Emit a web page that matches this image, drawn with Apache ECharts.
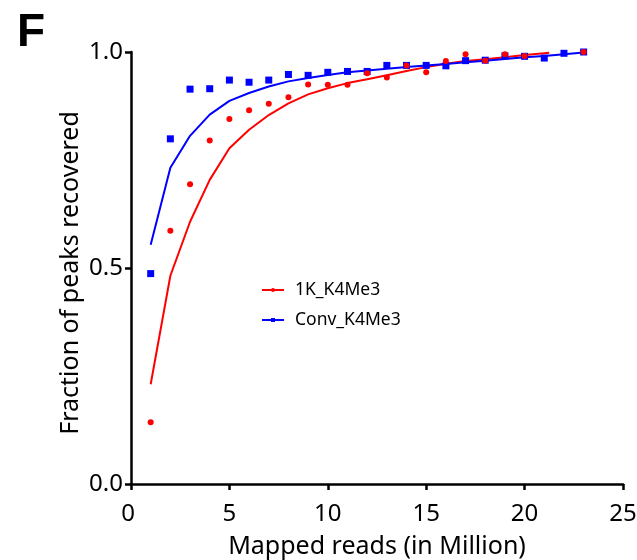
<!DOCTYPE html>
<html>
<head>
<meta charset="utf-8">
<script src="https://cdn.jsdelivr.net/npm/echarts@6/dist/echarts.min.js"></script>
<style>
  html, body { margin: 0; padding: 0; background: #fff; }
  #chart { width: 637px; height: 560px; }
</style>
</head>
<body>
<div id="chart"></div>
<script>
// Mapped reads (millions) at each subsampling depth
const depths = [1, 2, 3, 4, 5, 6, 7, 8, 9, 10, 11, 12, 13, 14, 15, 16, 17, 18, 19, 20, 21, 22, 23];

// Observed fraction of peaks recovered
const k1Observed = [0.143, 0.586, 0.694, 0.795, 0.845, 0.865, 0.880, 0.895, 0.925, 0.924, 0.924, 0.951,
                    0.941, 0.969, 0.953, 0.979, 0.995, 0.980, 0.995, 0.991, null, null, 1.0];
const convObserved = [0.487, 0.799, 0.914, 0.915, 0.935, 0.930, 0.935, 0.948, 0.946, 0.953, 0.955, 0.955,
                      0.969, 0.969, 0.969, 0.968, 0.980, 0.981, 0.991, 0.990, 0.986, 0.997, 1.0];

// Fitted saturation curves
const k1FitX = [1, 2, 3, 4, 5, 6, 7, 8, 9, 10, 11, 12, 13, 14, 15, 16, 17, 18, 19, 20, 21, 21.25];
const k1Fit = [0.231, 0.482, 0.607, 0.704, 0.777, 0.820, 0.854, 0.881, 0.902, 0.916, 0.928, 0.937,
               0.946, 0.956, 0.965, 0.973, 0.979, 0.983, 0.988, 0.993, 0.997, 0.998];
const convFit = [0.554, 0.732, 0.806, 0.855, 0.887, 0.905, 0.920, 0.932, 0.940, 0.947, 0.953, 0.957,
                 0.961, 0.965, 0.969, 0.972, 0.976, 0.980, 0.984, 0.988, 0.991, 0.995, 0.999];

const xTicks = [0, 5, 10, 15, 20, 25];
const yTicks = [0, 0.5, 1.0];

const RED = '#ff0000';
const BLUE = '#0000ff';
const FONT = '"Noto Sans", sans-serif';

const pair = (xs, ys) => xs.map((x, i) => [x, ys[i]]).filter(p => p[1] != null);

const chart = echarts.init(document.getElementById('chart'), null, { renderer: 'canvas' });
chart.setOption({
  animation: false,
  backgroundColor: '#fff',
  textStyle: { fontFamily: FONT },
  grid: { left: 131, right: 14, top: 52, bottom: 76, containLabel: false, outerBoundsMode: 'none' },
  title: {
    text: 'F', left: 12, top: 5,
    textStyle: { fontFamily: '"Liberation Sans", Arial, sans-serif', fontWeight: 'bold', fontSize: 46, color: '#000' }
  },
  legend: {
    left: 256, top: 276, orient: 'vertical',
    itemWidth: 22, itemHeight: 5, itemGap: 12,
    textStyle: { fontFamily: FONT, fontSize: 17.5, color: '#000', padding: [0, 0, 0, 6] },
    data: ['1K_K4Me3', 'Conv_K4Me3']
  },
  xAxis: {
    type: 'value', min: 0, max: 25, interval: 5,
    name: 'Mapped reads (in Million)', nameLocation: 'middle', nameGap: 50,
    nameTextStyle: { fontFamily: FONT, fontSize: 25, color: '#000' },
    axisLine: { show: true, onZero: false, lineStyle: { color: '#000', width: 2.5 } },
    axisTick: { show: true, length: 6, lineStyle: { color: '#000', width: 2.5 } },
    axisLabel: {
      fontFamily: FONT, fontSize: 24, color: '#000', margin: 18,
      formatter: v => v === 0 ? '{z|0}' : (xTicks.includes(v) ? String(v) : ''),
      rich: { z: { fontFamily: FONT, fontSize: 24, color: '#000', padding: [0, 6, 0, 0] } }
    },
    splitLine: { show: false }
  },
  yAxis: {
    type: 'value', min: 0, max: 1, interval: 0.5,
    name: 'Fraction of peaks recovered', nameLocation: 'middle', nameGap: 48, nameRotate: 90,
    nameMoveOverlap: false,
    nameTextStyle: { fontFamily: FONT, fontSize: 25, color: '#000', padding: [0, 10, 0, 0] },
    axisLine: { show: true, onZero: false, lineStyle: { color: '#000', width: 2.5 } },
    axisTick: { show: true, length: 6, lineStyle: { color: '#000', width: 2.5 } },
    axisLabel: { fontFamily: FONT, fontSize: 24, color: '#000', margin: 8, padding: [8, 0, 0, 0],
                 formatter: v => yTicks.includes(v) ? v.toFixed(1) : '' },
    splitLine: { show: false }
  },
  series: [
    {
      name: '1K_K4Me3', type: 'line', data: pair(k1FitX, k1Fit),
      symbol: 'circle', symbolSize: 4, showSymbol: false,
      lineStyle: { color: RED, width: 2 }, itemStyle: { color: RED }, z: 3
    },
    {
      name: 'Conv_K4Me3', type: 'line', data: pair(depths, convFit),
      symbol: 'rect', symbolSize: 4, showSymbol: false,
      lineStyle: { color: BLUE, width: 2 }, itemStyle: { color: BLUE }, z: 3
    },
    {
      name: 'Conv_K4Me3 observed', type: 'scatter', data: pair(depths, convObserved),
      symbol: 'rect', symbolSize: 7, itemStyle: { color: BLUE, opacity: 1 }, z: 4
    },
    {
      name: '1K_K4Me3 observed', type: 'scatter', data: pair(depths, k1Observed),
      symbol: 'circle', symbolSize: 6, itemStyle: { color: RED, opacity: 1 }, z: 5
    }
  ]
});
</script>
</body>
</html>
